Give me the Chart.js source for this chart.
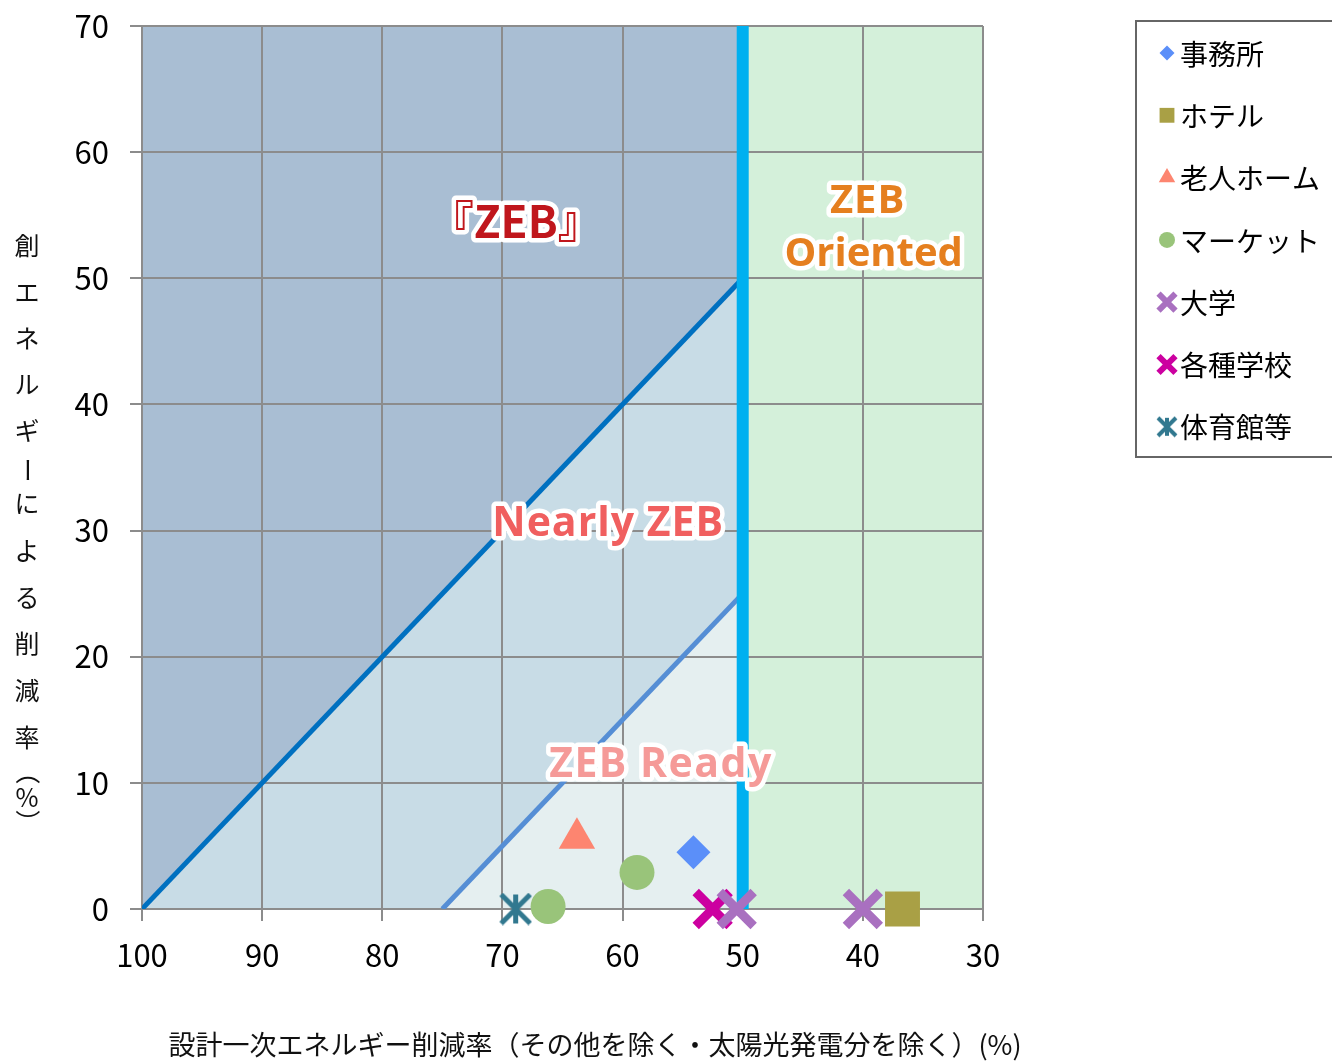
<!DOCTYPE html>
<html lang="ja">
<head>
<meta charset="utf-8">
<title>ZEB 分布</title>
<script src="https://cdn.jsdelivr.net/npm/chart.js@4.4.1/dist/chart.umd.min.js"></script>
<style>
  html, body { margin: 0; padding: 0; background: #fff; }
  #wrap { position: relative; width: 1332px; height: 1061px; }
</style>
</head>
<body>
<div id="wrap"><canvas id="grafico"></canvas></div>
<script>
// --- dados ---
const seriesNames = ['事務所', 'ホテル', '老人ホーム', 'マーケット', '大学', '各種学校', '体育館等'];
const officeX = [54.1],        officeY = [4.5];
const hotelX = [36.7],         hotelY = [0];
const nursingX = [63.8],       nursingY = [5.6];
const marketX = [58.8, 66.2],  marketY = [2.9, 0.2];
const univX = [50.5, 40.0],    univY = [0, 0];
const schoolX = [52.5],        schoolY = [0];
const gymX = [68.9],           gymY = [0];

const xTicks = [100, 90, 80, 70, 60, 50, 40, 30];
const yTicks = [0, 10, 20, 30, 40, 50, 60, 70];

// limites das zonas
const zebAreaX = [100, 50],      zebAreaY = [70, 70];
const orientedAreaX = [50, 30],  orientedAreaY = [70, 70];
const nearlyLineX = [100, 50],   nearlyLineY = [0, 50];
const readyLineX = [75, 50],     readyLineY = [0, 25];
const limitLineX = [50, 50],     limitLineY = [0, 70];

// rótulos das zonas
const regionNames = ['『ZEB』', 'ZEB', 'Oriented', 'Nearly ZEB', 'ZEB Ready'];
const regionX = [68.9, 39.6, 39.1, 61.2, 56.8];
const regionY = [54.5, 56.3, 52.2, 30.8, 11.7];

const xTitle = '設計一次エネルギー削減率（その他を除く・太陽光発電分を除く）(%)';
const yTitle = '創エネルギーによる削減率（%）';

const FONT = '"Noto Sans CJK JP", "Noto Sans", sans-serif';
const BOLD_FONT = '"Open Sans", "Noto Sans CJK JP", sans-serif';

function toPoints(xs, ys) {
  return xs.map((x, i) => ({ x: x, y: ys[i] }));
}

// marcador asterisco (X + vertical), como no Excel
function makeAsterisk(size, lw, color) {
  const c = document.createElement('canvas');
  c.width = size; c.height = size;
  const g = c.getContext('2d');
  g.strokeStyle = color;
  g.lineWidth = lw;
  const p = 2, m = size / 2;
  g.beginPath();
  g.moveTo(m, p); g.lineTo(m, size - p);
  g.moveTo(p, p); g.lineTo(size - p, size - p);
  g.moveTo(size - p, p); g.lineTo(p, size - p);
  g.stroke();
  return c;
}

const colors = ['#5b8ff9', '#a9a045', '#fd8570', '#99c47a', '#a970c0', '#cc00a0', '#31788f'];
const gymBig = makeAsterisk(33, 5, colors[6]);
const gymSmall = makeAsterisk(22, 4, colors[6]);

document.addEventListener('DOMContentLoaded', function() {
  const ctx = document.getElementById('grafico').getContext('2d');

  // rótulos das zonas com contorno branco
  const regionLabels = {
    id: 'regionLabels',
    afterDatasetsDraw(chart) {
      const c = chart.ctx, xs = chart.scales.x, ys = chart.scales.y;
      const fills = ['#c0161c', '#e57f1f', '#e57f1f', '#f05f5f', '#f59a98'];
      const fonts = ['bold 44px ' + FONT, 'bold 40px ' + BOLD_FONT, 'bold 40px ' + BOLD_FONT,
                     'bold 41px ' + BOLD_FONT, 'bold 41px ' + BOLD_FONT];
      const spacing = ['0px', '1px', '0px', '1px', '1.5px'];
      const dy = [0, 3, 4, 4, 4];
      c.save();
      c.textAlign = 'center';
      c.textBaseline = 'middle';
      c.lineJoin = 'round';
      regionNames.forEach((t, i) => {
        const px = xs.getPixelForValue(regionX[i]);
        const py = ys.getPixelForValue(regionY[i]) + dy[i];
        c.font = fonts[i];
        if ('letterSpacing' in c) c.letterSpacing = spacing[i];
        c.lineWidth = 9;
        c.strokeStyle = '#fff';
        c.strokeText(t, px, py);
        c.fillStyle = fills[i];
        c.fillText(t, px, py);
      });
      c.restore();
    }
  };

  // títulos dos eixos (Y na vertical, caractere por caractere)
  const axisTitles = {
    id: 'axisTitles',
    afterDraw(chart) {
      const c = chart.ctx;
      const chars = Array.from(yTitle);
      const ys = [245, 292, 338, 384, 430, 470, 503, 550, 597, 643, 690, 737, 772, 797, 822];
      const rotate = ['ー', '（', '）'];
      c.save();
      c.font = '25px ' + FONT;
      c.fillStyle = '#111';
      c.textAlign = 'center';
      c.textBaseline = 'middle';
      chars.forEach((ch, i) => {
        c.save();
        c.translate(27, ys[i]);
        if (rotate.includes(ch)) c.rotate(Math.PI / 2);
        c.fillText(ch, 0, 0);
        c.restore();
      });
      c.font = '27px ' + FONT;
      c.fillText(xTitle, 595, 1045);
      c.restore();
    }
  };

  // legenda com moldura
  const boxLegend = {
    id: 'boxLegend',
    afterDraw(chart) {
      const c = chart.ctx;
      const styles = [
        { pointStyle: 'rectRot', radius: 7.5, borderWidth: 0 },
        { pointStyle: 'rect', radius: 10.5, borderWidth: 0 },
        { pointStyle: 'triangle', radius: 9.5, borderWidth: 0 },
        { pointStyle: 'circle', radius: 8, borderWidth: 0 },
        { pointStyle: 'crossRot', radius: 12, borderWidth: 6 },
        { pointStyle: 'crossRot', radius: 12, borderWidth: 6 },
        { pointStyle: gymSmall, radius: 11, borderWidth: 0 }
      ];
      c.save();
      c.strokeStyle = '#666';
      c.lineWidth = 2;
      c.strokeRect(1136, 21, 220, 436);
      c.font = '28px ' + FONT;
      c.textBaseline = 'middle';
      c.textAlign = 'left';
      seriesNames.forEach((name, i) => {
        const y = 53 + i * 62.3;
        const st = Object.assign({ rotation: 0 }, styles[i]);
        c.fillStyle = colors[i];
        c.strokeStyle = colors[i];
        c.lineWidth = st.borderWidth || 1;
        Chart.helpers.drawPoint(c, st, 1167, y);
        c.fillStyle = '#000';
        c.fillText(name, 1180, y + 1);
      });
      c.restore();
    }
  };

  const grid = { color: '#8c8c8c', lineWidth: 2, tickLength: 12 };
  const border = { color: '#8c8c8c', width: 2 };
  const tickFont = { size: 31, family: FONT };

  const grafico = new Chart(ctx, {
    type: 'scatter',
    data: {
      datasets: [
        { label: seriesNames[0], data: toPoints(officeX, officeY), pointStyle: 'rectRot', pointRadius: 17,
          backgroundColor: colors[0], borderColor: colors[0], borderWidth: 0, order: 0, clip: false },
        { label: seriesNames[1], data: toPoints(hotelX, hotelY), pointStyle: 'rect', pointRadius: 24.7,
          backgroundColor: colors[1], borderColor: colors[1], borderWidth: 0, order: 0, clip: false },
        { label: seriesNames[2], data: toPoints(nursingX, nursingY), pointStyle: 'triangle', pointRadius: 21,
          backgroundColor: colors[2], borderColor: colors[2], borderWidth: 0, order: 0, clip: false },
        { label: seriesNames[3], data: toPoints(marketX, marketY), pointStyle: 'circle', pointRadius: 17.5,
          backgroundColor: colors[3], borderColor: colors[3], borderWidth: 0, order: 0, clip: false },
        { label: seriesNames[4], data: toPoints(univX, univY), pointStyle: 'crossRot', pointRadius: 24,
          backgroundColor: colors[4], borderColor: colors[4], borderWidth: 9, order: 0, clip: false },
        { label: seriesNames[5], data: toPoints(schoolX, schoolY), pointStyle: 'crossRot', pointRadius: 24,
          backgroundColor: colors[5], borderColor: colors[5], borderWidth: 9, order: 0, clip: false },
        { label: seriesNames[6], data: toPoints(gymX, gymY), pointStyle: gymBig, pointRadius: 16,
          backgroundColor: colors[6], borderColor: colors[6], borderWidth: 0, order: 0, clip: false },

        // zonas de fundo e linhas de limite
        { type: 'line', data: toPoints(limitLineX, limitLineY), borderColor: '#00b0f0', borderWidth: 12,
          pointRadius: 0, fill: false, order: 2 },
        { type: 'line', data: toPoints(readyLineX, readyLineY), borderColor: '#558ed5', borderWidth: 5,
          backgroundColor: '#e5eff0', pointRadius: 0, fill: 'origin', order: 3 },
        { type: 'line', data: toPoints(nearlyLineX, nearlyLineY), borderColor: '#0070c0', borderWidth: 5,
          backgroundColor: '#c8dce6', pointRadius: 0, fill: 'origin', order: 4 },
        { type: 'line', data: toPoints(zebAreaX, zebAreaY), borderColor: 'transparent', borderWidth: 1,
          backgroundColor: '#a9bed3', pointRadius: 0, fill: 'origin', order: 5 },
        { type: 'line', data: toPoints(orientedAreaX, orientedAreaY), borderColor: 'transparent', borderWidth: 1,
          backgroundColor: '#d4f0da', pointRadius: 0, fill: 'origin', order: 5 }
      ]
    },
    options: {
      responsive: true,
      maintainAspectRatio: false,
      animation: false,
      events: [],
      layout: { autoPadding: false, padding: { top: 26, right: 349, bottom: 0, left: 0 } },
      plugins: {
        legend: { display: false },
        tooltip: { enabled: false },
        filler: { drawTime: 'beforeDraw' }
      },
      scales: {
        x: {
          type: 'linear',
          reverse: true,
          min: 30,
          max: 100,
          afterBuildTicks: s => { s.ticks = xTicks.map(v => ({ value: v })); },
          afterFit: s => { s.height = 152; },
          grid: grid,
          border: border,
          ticks: { color: '#000', font: tickFont, padding: 16, maxRotation: 0, autoSkip: false }
        },
        y: {
          type: 'linear',
          min: 0,
          max: 70,
          afterBuildTicks: s => { s.ticks = yTicks.map(v => ({ value: v })); },
          afterFit: s => { s.width = 142; s.paddingTop = 0; s.paddingBottom = 0; },
          grid: grid,
          border: border,
          ticks: { color: '#000', font: tickFont, padding: 21 }
        }
      }
    },
    plugins: [regionLabels, axisTitles, boxLegend]
  });
});
</script>
</body>
</html>
